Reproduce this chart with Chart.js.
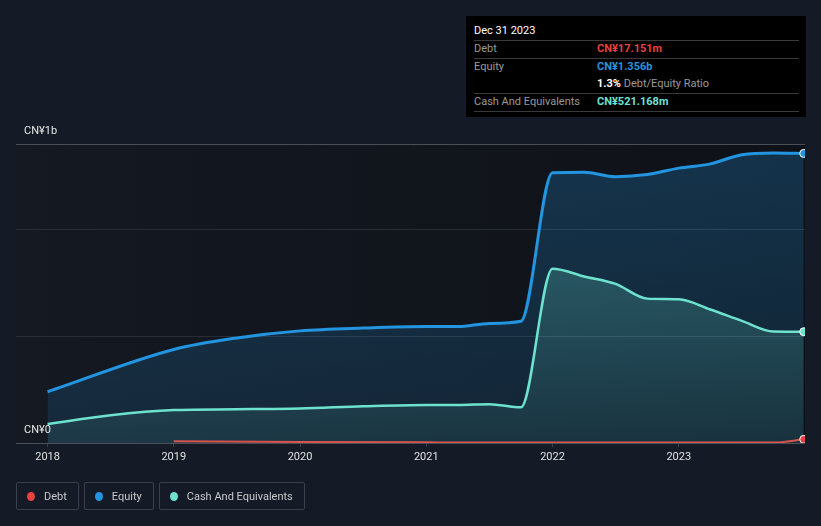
<!DOCTYPE html>
<html>
<head>
<meta charset="utf-8">
<style>
	body { margin: 0; background: #151b26; font-family: Roboto, "Noto Sans", sans-serif; }
	#wrap { position: relative; width: 821px; height: 526px; }
	#tip { position: absolute; left: 466px; top: 16px; width: 340px; height: 101px; background: #000; box-sizing: border-box; padding: 6px 7px 0 8px; font-size: 11px; color: #ddd; }
	#tip .head { color: #fff; font-size: 11px; height: 18px; line-height: 18px; border-bottom: 1px solid #3a3a3a; }
	#tip .row { display: flex; height: 17px; line-height: 16px; }
	#tip .row.line { border-bottom: 1px solid #3a3a3a; }
	#tip .lab { width: 123px; color: #9a9a9a; }
	#tip .val { font-weight: bold; }
	#legend { position: absolute; left: 16px; top: 482px; display: flex; gap: 5px; }
	.lg { border: 1px solid #3b414b; border-radius: 2px; height: 28px; box-sizing: border-box; padding: 0 11px 0 10px; display: flex; align-items: center; font-size: 11px; color: #c8c8c8; }
	.lg i { width: 8px; height: 9px; border-radius: 50%; margin-right: 9px; display: inline-block; }
</style>
</head>
<body>
<div id="wrap">
	<canvas id="myChart" width="821" height="526"></canvas>
	<div id="tip">
		<div class="head">Dec 31 2023</div>
		<div class="row line"><span class="lab">Debt</span><span class="val" style="color:#e8403f">CN¥17.151m</span></div>
		<div class="row"><span class="lab">Equity</span><span class="val" style="color:#2394df">CN¥1.356b</span></div>
		<div class="row line"><span class="lab"></span><span><b style="color:#fff">1.3%</b> <span style="color:#9a9a9a">Debt/Equity Ratio</span></span></div>
		<div class="row line"><span class="lab">Cash And Equivalents</span><span class="val" style="color:#6de3cf">CN¥521.168m</span></div>
	</div>
	<div id="legend">
		<div class="lg"><i style="background:#e8403f"></i>Debt</div>
		<div class="lg"><i style="background:#2394df"></i>Equity</div>
		<div class="lg"><i style="background:#6de3cf"></i>Cash And Equivalents</div>
	</div>
</div>

<script src="https://cdn.jsdelivr.net/npm/chart.js"></script>
<script>

	// values in CN¥ billions, x as decimal years
	const equityYears = [2018.0, 2019.0, 2019.5, 2020.0, 2020.5, 2021.0, 2021.25, 2021.5, 2021.75, 2022.0, 2022.25, 2022.5, 2022.75, 2023.0, 2023.25, 2023.5, 2023.75, 2023.99]
	const equity = [0.240, 0.438, 0.492, 0.525, 0.538, 0.545, 0.545, 0.560, 0.570, 1.265, 1.268, 1.247, 1.257, 1.287, 1.307, 1.350, 1.358, 1.356]

	const cashYears = [2018.0, 2018.5, 2019.0, 2019.5, 2020.0, 2020.5, 2021.0, 2021.25, 2021.5, 2021.75, 2022.0, 2022.25, 2022.5, 2022.75, 2023.0, 2023.25, 2023.5, 2023.75, 2023.99]
	const cash = [0.089, 0.130, 0.154, 0.158, 0.162, 0.172, 0.178, 0.178, 0.182, 0.167, 0.816, 0.780, 0.745, 0.676, 0.673, 0.625, 0.572, 0.522, 0.521]

	const debtYears = [2019.0, 2020.0, 2021.0, 2022.0, 2023.0, 2023.75, 2023.99]
	const debt = [0.008, 0.005, 0.003, 0.002, 0.002, 0.002, 0.017]

	const yearTicks = [2018, 2019, 2020, 2021, 2022, 2023]
	const yTicks = [0, 0.5, 1, 1.4]

	const toPoints = (xs, ys) => xs.map((x, i) => ({ x: x, y: ys[i] }))
	const lastDot = ctx => ctx.dataIndex === ctx.dataset.data.length - 1 ? 4 : 0

	function grad(ctx, top, bottom) {
		const area = ctx.chart.chartArea
		if (!area) return bottom
		const g = ctx.chart.ctx.createLinearGradient(0, area.top, 0, area.bottom)
		g.addColorStop(0, top)
		g.addColorStop(1, bottom)
		return g
	}

	const plotBg = {
		id: 'plotBg',
		beforeDraw(chart) {
			const { ctx, chartArea: a } = chart
			const g = ctx.createLinearGradient(a.left, 0, a.right, 0)
			g.addColorStop(0, '#141922')
			g.addColorStop(1, '#0e1117')
			ctx.save()
			ctx.fillStyle = g
			ctx.fillRect(a.left, a.top, a.right - a.left, a.bottom - a.top)
			ctx.restore()
		},
		afterDraw(chart) {
			const { ctx, scales } = chart
			ctx.save()
			ctx.fillStyle = '#e6e6e6'
			ctx.font = '11px Roboto'
			ctx.textBaseline = 'middle'
			ctx.fillText('CN¥1b', 24, scales.y.getPixelForValue(1.4) - 13)
			ctx.fillText('CN¥0', 24, scales.y.getPixelForValue(0) - 13)
			ctx.restore()
		}
	}

	const chart = new Chart(
		document.getElementById('myChart'),
		{
			type: 'line',
			data: {
				datasets: [
					{
						label: 'Debt',
						data: toPoints(debtYears, debt),
						borderColor: '#d9534f',
						backgroundColor: '#e8403f',
						borderWidth: 2,
						fill: false,
						pointRadius: lastDot,
						pointBorderColor: '#fff',
						pointBorderWidth: 1,
						order: 0,
					},
					{
						label: 'Equity',
						data: toPoints(equityYears, equity),
						borderColor: '#2394df',
						backgroundColor: ctx => grad(ctx, 'rgba(35,148,223,0.26)', 'rgba(35,148,223,0.13)'),
						pointBackgroundColor: '#2394df',
						borderWidth: 3,
						fill: 'origin',
						pointRadius: lastDot,
						pointBorderColor: '#fff',
						pointBorderWidth: 1,
						order: 2,
					},
					{
						label: 'Cash And Equivalents',
						data: toPoints(cashYears, cash),
						borderColor: '#6de3cf',
						backgroundColor: ctx => grad(ctx, 'rgba(108,229,208,0.32)', 'rgba(108,229,208,0.08)'),
						pointBackgroundColor: '#6de3cf',
						borderWidth: 2.5,
						fill: 'origin',
						pointRadius: lastDot,
						pointBorderColor: '#fff',
						pointBorderWidth: 1,
						order: 1,
					},
				]
			},
			options: {
				responsive: false,
				animation: false,
				cubicInterpolationMode: 'monotone',
				layout: { padding: { left: 16, right: 16, top: 144, bottom: 53 } },
				plugins: { legend: { display: false }, tooltip: { enabled: false } },
				scales: {
					x: {
						type: 'linear',
						min: 2017.75,
						max: 2024.0,
						afterBuildTicks: s => { s.ticks = yearTicks.map(v => ({ value: v })) },
						afterFit: s => { s.height = 30 },
						ticks: { color: '#e0e0e0', font: { family: 'Roboto', size: 11 }, padding: 4, maxRotation: 0, callback: v => String(v) },
						grid: { display: true, drawOnChartArea: false, drawTicks: true, tickLength: 4, color: '#3a3f48' },
						border: { display: false },
					},
					y: {
						min: 0,
						max: 1.4,
						afterBuildTicks: s => { s.ticks = yTicks.map(v => ({ value: v })) },
						afterFit: s => { s.width = 0 },
						ticks: { display: false },
						grid: { drawTicks: false, color: ctx => ctx.tick && (ctx.tick.value === 1.4 || ctx.tick.value === 0) ? '#4a4e56' : '#272c35' },
						border: { display: false },
					}
				}
			},
			plugins: [plotBg]
		}
	)
</script>
</body>
</html>
